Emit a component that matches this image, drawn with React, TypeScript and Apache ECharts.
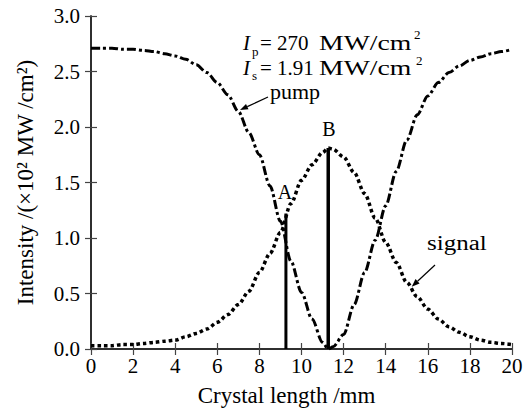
import React, { useEffect, useRef } from 'react';
import * as echarts from 'echarts';

// Crystal length positions (mm)
const crystalLength = [
  0, 0.5, 1, 1.5, 2, 2.5, 3, 3.5, 4, 4.5, 5, 5.5, 6, 6.5, 7, 7.5, 8, 8.5, 9, 9.5,
  10, 10.5, 11, 11.27, 11.5, 12, 12.5, 13, 13.5, 14, 14.5, 15, 15.5, 16, 16.5, 17,
  17.5, 18, 18.5, 19, 19.5, 20,
];
// Pump intensity (x10^2 MW/cm^2)
const pumpIntensity = [
  2.71, 2.71, 2.71, 2.7, 2.7, 2.69, 2.68, 2.66, 2.64, 2.61, 2.56, 2.49, 2.4, 2.29,
  2.14, 1.95, 1.75, 1.47, 1.15, 0.79, 0.51, 0.27, 0.06, 0.0, 0.02, 0.13, 0.4, 0.69,
  0.98, 1.29, 1.6, 1.88, 2.11, 2.28, 2.4, 2.49, 2.55, 2.6, 2.63, 2.66, 2.68, 2.7,
];
// Signal intensity (x10^2 MW/cm^2)
const signalIntensity = [
  0.03, 0.03, 0.03, 0.04, 0.04, 0.05, 0.06, 0.07, 0.08, 0.11, 0.14, 0.18, 0.24, 0.31,
  0.4, 0.52, 0.69, 0.86, 1.05, 1.31, 1.52, 1.66, 1.77, 1.81, 1.8, 1.73, 1.59, 1.4,
  1.18, 0.96, 0.78, 0.6, 0.47, 0.36, 0.27, 0.2, 0.15, 0.11, 0.08, 0.06, 0.05, 0.04,
];
// Vertical markers A and B: [position, height]
const markerA = [9.26, 1.22];
const markerB = [11.27, 1.81];

const xAxisRange = [0, 20, 2];
const yAxisRange = [0, 3, 0.5];

const FONT = "'Liberation Serif', 'Times New Roman', serif";

function arrow(x1: number, y1: number, x2: number, y2: number) {
  const dx = x2 - x1;
  const dy = y2 - y1;
  const len = Math.sqrt(dx * dx + dy * dy);
  const ux = dx / len;
  const uy = dy / len;
  const hl = 8;
  const hw = 3;
  const bx = x2 - ux * hl;
  const by = y2 - uy * hl;
  const nx = -uy;
  const ny = ux;
  return [
    {
      type: 'line',
      shape: { x1, y1, x2: bx, y2: by },
      style: { stroke: '#000', lineWidth: 1.2 },
    },
    {
      type: 'polygon',
      shape: {
        points: [
          [x2, y2],
          [bx + nx * hw, by + ny * hw],
          [bx - nx * hw, by - ny * hw],
        ],
      },
      style: { fill: '#000' },
    },
  ];
}

function txt(text: string, x: number, y: number, size: number, opts: any = {}) {
  return {
    type: 'text',
    x,
    y,
    scaleX: opts.scaleX ?? 1,
    style: {
      text,
      fontSize: size,
      fontFamily: FONT,
      fontStyle: opts.italic ? 'italic' : 'normal',
      fill: '#000',
      align: opts.align ?? 'left',
      verticalAlign: 'middle',
    },
  };
}

export default function App() {
  const ref = useRef<HTMLDivElement>(null);

  useEffect(() => {
    const chart = echarts.init(ref.current!, null, { renderer: 'svg' });

    const axisLine = { show: true, lineStyle: { color: '#222', width: 1.5 } };
    const axisTick = { show: true, inside: true, length: 6, lineStyle: { color: '#444', width: 1.2 } };

    const option: any = {
      animation: false,
      backgroundColor: '#fff',
      grid: { left: 91, right: 14, top: 16, bottom: 65, containLabel: false },
      xAxis: [
        {
          type: 'value',
          min: xAxisRange[0],
          max: xAxisRange[1],
          interval: xAxisRange[2],
          position: 'bottom',
          axisLine,
          axisTick,
          splitLine: { show: false },
          axisLabel: { fontFamily: FONT, fontSize: 21, color: '#000', margin: 6 },
          name: 'Crystal length /mm',
          nameLocation: 'middle',
          nameGap: 35,
          nameTextStyle: { fontFamily: FONT, fontSize: 23, color: '#000', padding: [0, 30, 0, 0] },
        },
        {
          type: 'value',
          min: xAxisRange[0],
          max: xAxisRange[1],
          interval: xAxisRange[2],
          position: 'top',
          axisLine,
          axisTick,
          splitLine: { show: false },
          axisLabel: { show: false },
        },
      ],
      yAxis: [
        {
          type: 'value',
          min: yAxisRange[0],
          max: yAxisRange[1],
          interval: yAxisRange[2],
          position: 'left',
          axisLine,
          axisTick,
          splitLine: { show: false },
          axisLabel: {
            fontFamily: FONT,
            fontSize: 21,
            color: '#000',
            margin: 11,
            formatter: (v: number) => v.toFixed(1),
          },
          name: 'Intensity /(×10² MW /cm²)',
          nameLocation: 'middle',
          nameGap: 54,
          nameTextStyle: { fontFamily: FONT, fontSize: 23, color: '#000' },
        },
        {
          type: 'value',
          min: yAxisRange[0],
          max: yAxisRange[1],
          interval: yAxisRange[2],
          position: 'right',
          axisLine,
          axisTick,
          splitLine: { show: false },
          axisLabel: { show: false },
        },
      ],
      series: [
        {
          name: 'marker A',
          type: 'line',
          data: [
            [markerA[0], 0],
            [markerA[0], markerA[1]],
          ],
          symbol: 'none',
          lineStyle: { color: '#000', width: 3 },
          z: 3,
        },
        {
          name: 'marker B',
          type: 'line',
          data: [
            [markerB[0], 0],
            [markerB[0], markerB[1]],
          ],
          symbol: 'none',
          lineStyle: { color: '#000', width: 3.5 },
          z: 3,
        },
        {
          name: 'pump',
          type: 'line',
          data: crystalLength.map((x, i) => [x, pumpIntensity[i]]),
          symbol: 'none',
          smooth: 0.3,
          smoothMonotone: 'x',
          lineStyle: { color: '#000', width: 3, type: [9, 3, 3, 3], cap: 'butt' },
          z: 4,
        },
        {
          name: 'signal',
          type: 'line',
          data: crystalLength.map((x, i) => [x, signalIntensity[i]]),
          symbol: 'none',
          smooth: 0.3,
          smoothMonotone: 'x',
          lineStyle: { color: '#000', width: 3.5, type: [3.5, 3], cap: 'butt' },
          z: 4,
        },
      ],
      graphic: [
        // I_p = 270 MW/cm^2
        txt('I', 243, 43, 21, { italic: true }),
        txt('p', 252, 51.5, 13),
        txt('= 270', 260, 43, 21),
        txt('MW/cm', 319, 43, 21, { scaleX: 1.32 }),
        txt('2', 414, 34, 13),
        // I_s = 1.91 MW/cm^2
        txt('I', 243, 68, 21, { italic: true }),
        txt('s', 252, 75, 13),
        txt('= 1.91', 260, 68, 21),
        txt('MW/cm', 319, 68, 21, { scaleX: 1.32 }),
        txt('2', 416, 60, 13),
        // labels
        txt('pump', 270, 92, 20, { scaleX: 1.1 }),
        txt('signal', 427, 243, 20, { scaleX: 1.25 }),
        txt('A', 285, 191.5, 20, { align: 'center' }),
        txt('B', 329, 129, 20, { align: 'center' }),
        ...arrow(268, 97, 240, 110),
        ...arrow(435, 265, 411.7, 286.7),
      ],
    };

    chart.setOption(option);
    return () => chart.dispose();
  }, []);

  return (
    <div
      ref={ref}
      style={{ position: 'absolute', left: 0, top: 0, width: 526, height: 414, background: '#fff' }}
    />
  );
}
